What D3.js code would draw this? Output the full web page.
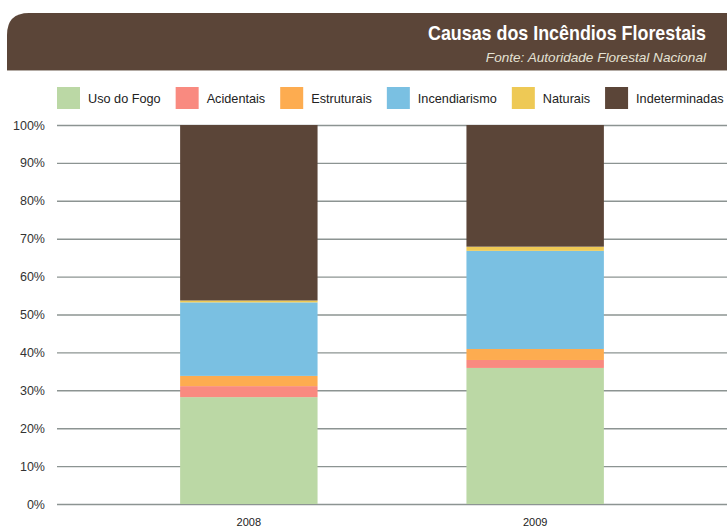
<!DOCTYPE html>
<html><head><meta charset="utf-8">
<script src="https://cdn.jsdelivr.net/npm/d3@7"></script>
<style>
body{margin:0;background:#fff}svg{display:block}
.lab{font-family:Arial,"Liberation Sans",Helvetica,sans-serif}
.ttl{font-family:"Liberation Sans",Arial,sans-serif;font-weight:bold}
</style>
</head><body>
<svg id="c" width="727" height="529"></svg>
<script>
const years = ["2008", "2009"];
const series = ["Uso do Fogo", "Acidentais", "Estruturais", "Incendiarismo", "Naturais", "Indeterminadas"];
const usoDoFogo = [28.2, 35.9];
const acidentais = [2.9, 2.1];
const estruturais = [2.7, 2.9];
const incendiarismo = [19.4, 25.9];
const naturais = [0.5, 1.1];
const indeterminadas = [46.3, 32.1];
const yTicks = [0, 10, 20, 30, 40, 50, 60, 70, 80, 90, 100];
const colors = ["#bbd8a5", "#f98a80", "#fdac50", "#7ac0e2", "#eec955", "#5b4538"];

const values = [usoDoFogo, acidentais, estruturais, incendiarismo, naturais, indeterminadas];
const table = years.map((y, i) => {
  const o = {year: y};
  series.forEach((s, j) => o[s] = values[j][i]);
  return o;
});

const svg = d3.select("#c");

// header banner
const bx = 7, by = 13, bw = 720, bh = 57, r = 22;
svg.append("path")
  .attr("d", `M${bx},${by+bh} L${bx},${by+r} Q${bx},${by} ${bx+r},${by} L${bx+bw},${by} L${bx+bw},${by+bh} Z`)
  .attr("fill", "#5b4538");
svg.append("line").attr("x1", bx).attr("x2", bx+bw).attr("y1", by+bh+0.5).attr("y2", by+bh+0.5)
  .attr("stroke", "#b3aba4").attr("stroke-width", 1);
svg.append("text").attr("class", "ttl").attr("x", 706).attr("y", 40).attr("text-anchor", "end")
  .attr("font-size", 21).attr("fill", "#ffffff")
  .attr("textLength", 278).attr("lengthAdjust", "spacingAndGlyphs")
  .text("Causas dos Incêndios Florestais");
svg.append("text").attr("class", "lab").attr("x", 706).attr("y", 62).attr("text-anchor", "end")
  .attr("font-style", "italic")
  .attr("font-size", 13.6).attr("fill", "#e4e2d4")
  .text("Fonte: Autoridade Florestal Nacional");

// scales
const y = d3.scaleLinear().domain([0, 100]).range([504, 125]);
const x = d3.scaleBand().domain(years).range([57, 727]).paddingInner(0.52).paddingOuter(0.43);

// grid
const gy = svg.append("g").attr("transform", "translate(57,0)")
  .call(d3.axisLeft(y).tickValues(yTicks).tickSize(-670).tickFormat(d => d + "%").tickPadding(12));
gy.attr("font-family", null);
gy.select(".domain").remove();
gy.selectAll(".tick line").attr("stroke", "#8c9492").attr("stroke-width", 1.4);
gy.selectAll(".tick text").attr("class", "lab")
  .attr("font-size", 12.5).attr("fill", "#333");

// bars
const stacked = d3.stack().keys(series)(table);
svg.append("g").selectAll("g").data(stacked).join("g")
  .attr("fill", (d, i) => colors[i])
  .selectAll("rect").data(d => d).join("rect")
  .attr("x", d => x(d.data.year))
  .attr("width", x.bandwidth())
  .attr("y", d => y(d[1]))
  .attr("height", d => y(d[0]) - y(d[1]));

// x axis labels
const gx = svg.append("g").attr("transform", "translate(0,504)")
  .call(d3.axisBottom(x).tickSize(0));
gx.attr("font-family", null);
gx.select(".domain").remove();
gx.selectAll(".tick text").attr("class", "lab").attr("y", 22).attr("dy", null)
  .attr("font-size", 11).attr("fill", "#222");

// legend
const lg = svg.append("g");
let lx = 57;
series.forEach((s, i) => {
  const g = lg.append("g").attr("transform", `translate(${lx},87)`);
  g.append("rect").attr("width", 23).attr("height", 22).attr("fill", colors[i]);
  const t = g.append("text").attr("class", "lab").attr("x", 31).attr("y", 16)
    .attr("font-size", 12.7)
    .attr("fill", "#222").text(s);
  lx += 31 + t.node().getComputedTextLength() + 15;
});
</script>
</body></html>
